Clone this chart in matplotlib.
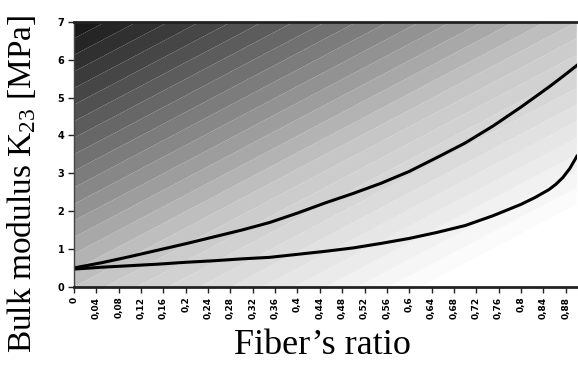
import numpy as np
import matplotlib
matplotlib.use("Agg")
import matplotlib.pyplot as plt
from matplotlib.colors import LinearSegmentedColormap

# ---- data ----
fiber_ratio_upper = [0.0, 0.05, 0.1, 0.15, 0.2, 0.25, 0.3, 0.35, 0.4, 0.45, 0.5,
                     0.55, 0.6, 0.65, 0.7, 0.75, 0.8, 0.85, 0.875, 0.9]
k23_upper = [0.50, 0.64, 0.80, 0.97, 1.14, 1.32, 1.50, 1.70, 1.95, 2.22, 2.47,
             2.74, 3.05, 3.42, 3.80, 4.25, 4.75, 5.28, 5.56, 5.85]
fiber_ratio_lower = [0.0, 0.05, 0.1, 0.15, 0.2, 0.25, 0.3, 0.35, 0.4, 0.45, 0.5,
                     0.55, 0.6, 0.65, 0.7, 0.75, 0.8, 0.825, 0.85, 0.8625,
                     0.875, 0.8875, 0.9]
k23_lower = [0.47, 0.52, 0.56, 0.60, 0.65, 0.69, 0.74, 0.78, 0.86, 0.94, 1.03,
             1.15, 1.28, 1.44, 1.62, 1.88, 2.18, 2.36, 2.57, 2.71, 2.89, 3.13,
             3.45]

x_ticks = [0, 0.04, 0.08, 0.12, 0.16, 0.2, 0.24, 0.28, 0.32, 0.36, 0.4, 0.44,
           0.48, 0.52, 0.56, 0.6, 0.64, 0.68, 0.72, 0.76, 0.8, 0.84, 0.88]
x_labels = ["0", "0,04", "0,08", "0,12", "0,16", "0,2", "0,24", "0,28", "0,32",
            "0,36", "0,4", "0,44", "0,48", "0,52", "0,56", "0,6", "0,64", "0,68",
            "0,72", "0,76", "0,8", "0,84", "0,88"]
y_ticks = [0, 1, 2, 3, 4, 5, 6, 7]
y_labels = ["0", "1", "2", "3", "4", "5", "6", "7"]

# background shading stops (field value -> gray)
bg_stops = [(0.0, "#ffffff"), (0.15, "#ffffff"), (0.5, "#c4c4c4"), (1.0, "#161616")]

plt.rcParams["mathtext.fontset"] = "custom"
plt.rcParams["mathtext.rm"] = "Liberation Serif"
plt.rcParams["mathtext.it"] = "Liberation Serif:italic"

fig = plt.figure(figsize=(5.78, 3.65), dpi=100)
ax = fig.add_axes([0.128, 0.214, 0.870, 0.726])

xmax, ymax = 0.9, 7.0
gx, gy = np.meshgrid(np.linspace(0, xmax, 300), np.linspace(0, ymax, 300))
field = gy / ymax - gx / xmax
cmap = LinearSegmentedColormap.from_list("bg", bg_stops)
levels = np.arange(-1.0, 1.0001, 1 / 16)
ax.contourf(gx, gy, field, levels=levels, cmap=cmap, vmin=-1, vmax=1,
            antialiased=True)

ax.plot(fiber_ratio_upper, k23_upper, color="black", lw=2.2)
ax.plot(fiber_ratio_lower, k23_lower, color="black", lw=2.2)

ax.set_xlim(0, xmax)
ax.set_ylim(0, ymax)
ax.set_xticks(x_ticks)
ax.set_xticklabels(x_labels, rotation=90, fontsize=6.5, fontweight="bold")
ax.set_yticks(y_ticks)
ax.set_yticklabels(y_labels, fontsize=7, fontweight="bold")
ax.tick_params(axis="both", direction="out", length=4, width=1, color="#222222",
               pad=3)

for side in ["top", "bottom"]:
    ax.spines[side].set_linewidth(2)
    ax.spines[side].set_color("#222222")
ax.spines["left"].set_linewidth(1)
ax.spines["left"].set_color("#444444")
ax.spines["right"].set_visible(False)

ax.set_xlabel("Fiber\u2019s ratio", family="Liberation Serif", fontsize=26)
ax.xaxis.set_label_coords(0.495, -0.16)
ax.set_ylabel("Bulk modulus K$_{23}$ [MPa]", family="Liberation Serif",
              fontsize=24)
ax.yaxis.set_label_coords(-0.072, 0.39)

fig.savefig("out.png", dpi=100)
